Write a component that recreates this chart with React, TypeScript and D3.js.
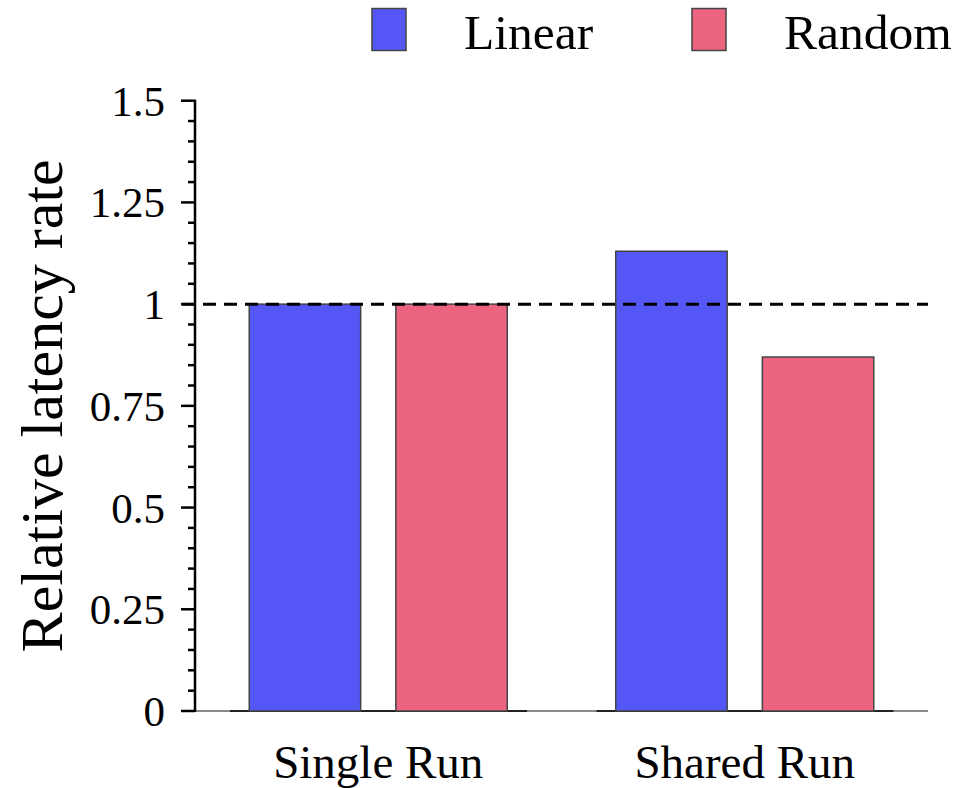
import React from "react";
import * as d3 from "d3";

const categories = ["Single Run", "Shared Run"];
const seriesNames = ["Linear", "Random"];
const linearValues = [1, 1.13];
const randomValues = [1, 0.87];
const yTickValues = [0, 0.25, 0.5, 0.75, 1, 1.25, 1.5];
const yTickLabels = ["0", "0.25", "0.5", "0.75", "1", "1.25", "1.5"];
const referenceValue = 1;

const colors: Record<string, string> = { Linear: "#5457F5", Random: "#EC6380" };
const FONT = "'Liberation Serif', 'Times New Roman', Times, serif";

export default function App() {
  const W = 961;
  const H = 788;
  const left = 195;
  const right = 928;
  const top = 100.7;
  const bottom = 711;

  const y = d3.scaleLinear().domain([0, 1.5]).range([bottom, top]);
  const x0 = d3.scaleBand<string>().domain(categories).range([left, right]).padding(0);
  const x1 = d3
    .scaleBand<string>()
    .domain(seriesNames)
    .range([0, x0.bandwidth()])
    .paddingInner(0.24)
    .paddingOuter(0.37);

  const valuesBySeries: Record<string, number[]> = { Linear: linearValues, Random: randomValues };

  const minorTicks = d3.range(0, 31).map((i) => i * 0.05).filter((v) => Math.abs((v / 0.25) - Math.round(v / 0.25)) > 1e-6);

  const bw = x0.bandwidth();

  return (
    <svg
      width={W}
      height={H}
      style={{ position: "absolute", left: 0, top: 0, display: "block", background: "#fff" }}
    >
      {/* x baseline */}
      <line x1={left} x2={right} y1={y(0)} y2={y(0)} stroke="#8a8a8a" strokeWidth={2} />
      {categories.map((c) => (
        <line
          key={"g" + c}
          x1={(x0(c) as number) + bw * 0.0955}
          x2={(x0(c) as number) + bw * 0.906}
          y1={y(0)}
          y2={y(0)}
          stroke="#222"
          strokeWidth={2}
        />
      ))}

      {/* bars */}
      {categories.map((c, ci) =>
        seriesNames.map((s) => {
          const v = valuesBySeries[s][ci];
          const bx = (x0(c) as number) + (x1(s) as number);
          return (
            <rect
              key={c + s}
              x={bx}
              y={y(v)}
              width={x1.bandwidth()}
              height={y(0) - y(v)}
              fill={colors[s]}
              stroke="#444"
              strokeWidth={1.5}
            />
          );
        })
      )}

      {/* reference dashed line */}
      <line
        x1={182}
        x2={right}
        y1={y(referenceValue)}
        y2={y(referenceValue)}
        stroke="#000"
        strokeWidth={3}
        strokeDasharray="13 8"
      />

      {/* y axis */}
      <line x1={left} x2={left} y1={top - 1} y2={bottom + 1} stroke="#000" strokeWidth={2.5} />
      {yTickValues.map((v, i) => (
        <g key={"t" + v}>
          <line x1={left - 14} x2={left} y1={y(v)} y2={y(v)} stroke="#000" strokeWidth={2.5} />
          <text
            x={165}
            y={y(v)}
            dy="0.35em"
            textAnchor="end"
            fontFamily={FONT}
            fontSize={43}
            fill="#000"
          >
            {yTickLabels[i]}
          </text>
        </g>
      ))}
      {minorTicks.map((v) => (
        <line key={"m" + v} x1={left - 7} x2={left} y1={y(v)} y2={y(v)} stroke="#000" strokeWidth={2.5} />
      ))}

      {/* y title */}
      <text
        transform={`translate(62, ${(top + bottom) / 2}) rotate(-90)`}
        textAnchor="middle"
        fontFamily={FONT}
        fontSize={60}
        fill="#000"
      >
        Relative latency rate
      </text>

      {/* x labels */}
      {categories.map((c) => (
        <text
          key={"x" + c}
          x={(x0(c) as number) + bw / 2}
          y={778}
          textAnchor="middle"
          fontFamily={FONT}
          fontSize={47}
          fill="#000"
        >
          {c}
        </text>
      ))}

      {/* legend */}
      {seriesNames.map((s, i) => {
        const lx = i === 0 ? 372 : 692;
        return (
          <g key={"l" + s}>
            <rect x={lx} y={8.5} width={34} height={42} fill={colors[s]} stroke="#444" strokeWidth={1.5} />
            <text x={lx + 92} y={48.5} fontFamily={FONT} fontSize={49.5} fill="#000">
              {s}
            </text>
          </g>
        );
      })}
    </svg>
  );
}
